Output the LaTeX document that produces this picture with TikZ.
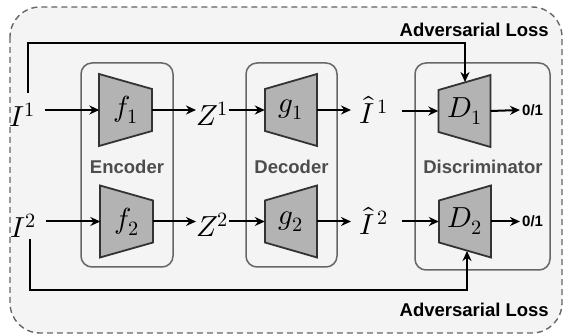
\documentclass[tikz,border=0pt]{standalone}
\usepackage{fontspec}
\usepackage{unicode-math}
\setmathfont{Latin Modern Math}
\newfontfamily\labfont{Liberation Sans}
\usetikzlibrary{arrows.meta}
\definecolor{bgfill}{HTML}{F4F4F4}
\definecolor{boxline}{HTML}{666666}
\definecolor{trapfill}{HTML}{B3B3B3}
\definecolor{trapline}{HTML}{333333}
\definecolor{labgray}{HTML}{4D4D4D}
\newcommand{\enctrap}[2]{\draw[trap] ({#1-26.5},{#2-36}) -- ({#1+26.5},{#2-21}) -- ({#1+26.5},{#2+21}) -- ({#1-26.5},{#2+36}) -- cycle;}
\newcommand{\dectrap}[2]{\draw[trap] ({#1-26},{#2-21}) -- ({#1+26},{#2-36}) -- ({#1+26},{#2+36}) -- ({#1-26},{#2+21}) -- cycle;}
\begin{document}
\begin{tikzpicture}[x=1pt,y=-1pt,
  outer/.style={draw=boxline,fill=bgfill,line width=1.4pt,dash pattern=on 6pt off 4pt,rounded corners=30pt},
  group/.style={draw=boxline,line width=1.5pt,rounded corners=11pt},
  trap/.style={draw=trapline,fill=trapfill,line width=1.8pt,line join=miter},
  tnode/.style={inner sep=0pt,minimum width=52pt,minimum height=40pt,font=\fontsize{29}{30}\selectfont},
  mathlab/.style={inner sep=0pt,font=\fontsize{29}{30}\selectfont},
  grouplab/.style={text=labgray,font=\labfont\bfseries\fontsize{18.5}{19}\selectfont,inner sep=0pt},
  advlab/.style={text=black,font=\labfont\bfseries\fontsize{18.5}{19}\selectfont,inner sep=0pt},
  outlab/.style={text=black,font=\labfont\bfseries\fontsize{15}{16}\selectfont,inner sep=0pt},
  arr/.style={-{Stealth[length=10pt,width=9pt]},line width=2pt,draw=black}]
\useasboundingbox (0,0) rectangle (565,336);
% outer dashed frame
\draw[outer] (10,7) rectangle (562,333);
% group boxes
\draw[group] (81,63) rectangle (173,267);
\draw[group] (246,63) rectangle (337,267);
\draw[group] (415,63) rectangle (550,270);
\node[grouplab] (enc) at (127,167) {Encoder};
\node[grouplab] (dec) at (291.5,167) {Decoder};
\node[grouplab] (dis) at (483,167) {Discriminator};
% trapezoids
\enctrap{125.5}{110}
\enctrap{126.5}{221.5}
\dectrap{291}{110}
\dectrap{291}{221.5}
\dectrap{464.5}{111}
\dectrap{465}{221.5}
\node[tnode] (f1) at (125.5,110) {$f_1$};
\node[tnode] (f2) at (126.5,221.5) {$f_2$};
\node[tnode] (g1) at (291,110) {$g_1$};
\node[tnode] (g2) at (291,221.5) {$g_2$};
\node[tnode] (D1) at (464.5,111) {$D_1$};
\node[tnode] (D2) at (465,221.5) {$D_2$};
% math labels
\node[mathlab,anchor=base west] (I1) at (9,127) {$I^1$};
\node[mathlab,anchor=base west] (I2) at (10,238) {$I^2$};
\node[mathlab,anchor=base west] (Z1) at (196,126) {$Z^1$};
\node[mathlab,anchor=base west] (Z2) at (196,237) {$Z^2$};
\node[mathlab,anchor=base west] (H1) at (359,124) {$\hat{I}^{\,1}$};
\node[mathlab,anchor=base west] (H2) at (359,235) {$\hat{I}^{\,2}$};
\node[outlab,anchor=west] (o1) at (522,110) {0/1};
\node[outlab,anchor=west] (o2) at (522,221.5) {0/1};
% row connectors
\draw[arr] (45,110) -- (f1.west);
\draw[arr] (f1.east) -- (Z1.west |- f1.east);
\draw[arr] (Z1.east |- g1.west) -- (g1.west);
\draw[arr] (g1.east) -- ([xshift=-8pt]H1.west |- g1.east);
\draw[arr] ([xshift=13pt]H1.east |- D1.west) -- (D1.west);
\draw[arr] (D1.east) -- ([xshift=-2pt]o1.west);
\draw[arr] (46,221.5) -- (f2.west);
\draw[arr] (f2.east) -- (Z2.west |- f2.east);
\draw[arr] (Z2.east |- g2.west) -- (g2.west);
\draw[arr] (g2.east) -- ([xshift=-8pt]H2.west |- g2.east);
\draw[arr] ([xshift=13pt]H2.east |- D2.west) -- (D2.west);
\draw[arr] (D2.east) -- ([xshift=-2pt]o2.west);
% adversarial loops
\coordinate (s1) at (28,93);
\coordinate (c1) at (465,43);
\coordinate (e1) at (465,82);
\draw[line width=2pt,-{Stealth[length=10pt,width=9pt]}] (s1) |- (c1) -- (e1);
\coordinate (s2) at (30,239);
\coordinate (c2) at (467,290);
\coordinate (e2) at (467,251);
\draw[line width=2pt,-{Stealth[length=10pt,width=9pt]}] (s2) |- (c2) -- (e2);
\node[advlab,anchor=east] (adv1) at (549,30) {Adversarial Loss};
\node[advlab,anchor=east] (adv2) at (549,310) {Adversarial Loss};
\end{tikzpicture}
\end{document}
